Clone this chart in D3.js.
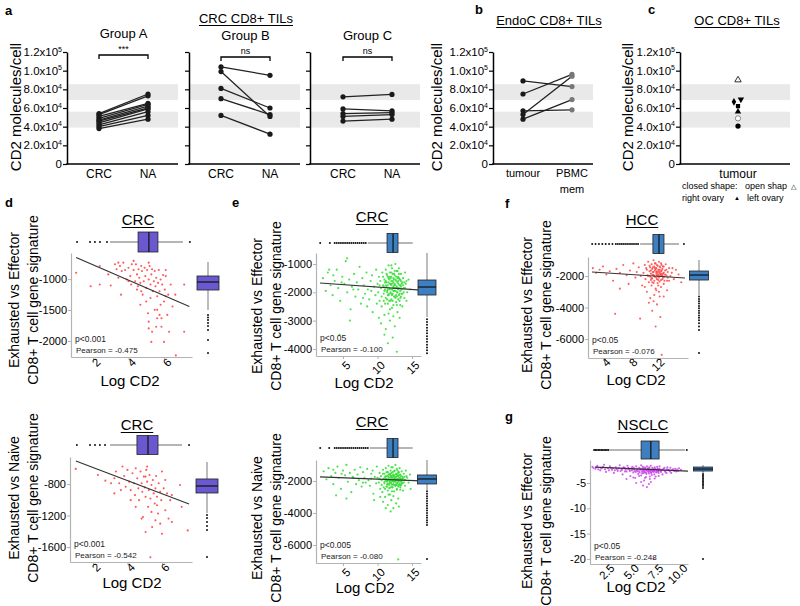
<!DOCTYPE html>
<html><head><meta charset="utf-8">
<script src="https://cdn.jsdelivr.net/npm/d3@7"></script>
<style>body{margin:0;background:#fff}svg{font-family:'Liberation Sans',Arial,sans-serif}</style>
</head><body>
<svg id="c" width="800" height="606"></svg>
<script>
// ---------------- DATA ----------------
const aTicks = [0,20000,40000,60000,80000,100000,120000];
const refBands = [[68500,85500],[39000,56000]];
const pairCats = ['CRC','NA'];
const groupA_CRC = [54000,53000,51000,49000,47000,46000,44000,42000,40000,38000];
const groupA_NA  = [75000,73000,65000,64000,62000,60000,59000,56000,52000,48000];
const groupB_CRC = [104000,99000,81000,70000,52000];
const groupB_NA  = [95000,51000,60000,53000,32000];
const groupC_CRC = [72000,59000,54000,51000,46000];
const groupC_NA  = [74500,57000,55000,53000,48000];
const bCats = ['tumour','PBMC'];
const bTumour = [89000,75000,53000,57000,48000];
const bPBMC   = [83000,96000,94000,58000,69000];
const cVals   = [90000,66600,69200,62000,56000,48900,40600];
const cShapes = ['triangle','diamond','triangleDown','square','triangle','circle','circle'];
const cFilled = [false,true,true,true,true,false,true];
const cJitter = [0,-0.07,0.05,0,0,0,0];

const dTopPts = [[1.05,-897],[1.87,-1115],[2.38,-1087],[2.38,-787],[2.86,-923],[3.0,-1103],[3.24,-759],[3.33,-841],[3.43,-978],[3.52,-787],[3.58,-1251],[3.62,-869],[3.71,-733],[3.81,-852],[3.9,-1005],[4.0,-815],[4.1,-951],[4.15,-1087],[4.19,-759],[4.29,-852],[4.38,-1033],[4.42,-759],[4.48,-923],[4.53,-1115],[4.57,-841],[4.61,-978],[4.67,-1415],[4.67,-1060],[4.72,-787],[4.76,-869],[4.8,-1251],[4.86,-1033],[4.91,-815],[4.95,-951],[5.0,-1142],[5.05,-852],[5.1,-1552],[5.14,-1005],[5.19,-787],[5.24,-1306],[5.24,-1087],[5.29,-923],[5.33,-1852],[5.33,-841],[5.37,-1197],[5.43,-1033],[5.48,-1497],[5.48,-869],[5.52,-1115],[5.56,-978],[5.62,-1634],[5.62,-1278],[5.67,-1060],[5.71,-852],[5.75,-1197],[5.81,-1415],[5.81,-1005],[5.86,-1770],[5.9,-1087],[5.95,-934],[6.0,-1361],[6.0,-2016],[6.05,-1169],[6.1,-951],[6.19,-1579],[6.24,-1251],[6.29,-1852],[6.38,-1087],[6.48,-1443],[6.64,-1251],[6.67,-2234],[7.14,-1087],[7.14,-1852],[5.29,-2016],[5.14,-1797],[5.56,-1770],[5.75,-1579],[5.14,-1688],[5.86,-1634],[6.1,-1278],[5.62,-1497],[5.0,-1361],[4.72,-1197],[4.48,-1169],[4.0,-1033],[4.29,-705],[5.14,-733],[6.1,-852],[3.43,-733]];
const dBotPts = [[1.0,-608],[2.29,-685],[2.72,-757],[3.24,-727],[3.33,-642],[3.52,-791],[3.71,-578],[3.81,-698],[3.9,-834],[4.0,-621],[4.1,-770],[4.19,-877],[4.29,-663],[4.38,-791],[4.44,-941],[4.48,-600],[4.57,-727],[4.63,-855],[4.67,-1005],[4.76,-642],[4.82,-791],[4.86,-898],[4.9,-1218],[4.95,-706],[5.0,-843],[5.05,-962],[5.09,-621],[5.14,-770],[5.2,-1090],[5.24,-877],[5.28,-685],[5.33,-983],[5.39,-813],[5.43,-1346],[5.47,-749],[5.52,-919],[5.58,-1047],[5.62,-855],[5.66,-698],[5.71,-962],[5.77,-1175],[5.81,-791],[5.9,-898],[5.96,-1005],[6.0,-642],[6.1,-855],[6.19,-1133],[6.29,-919],[6.38,-1239],[6.48,-1005],[6.57,-1282],[7.05,-813],[7.14,-1090],[7.49,-1389],[5.9,-1303],[5.33,-1730],[4.82,-1239],[5.62,-1261],[6.0,-1432],[5.05,-1410],[4.48,-1090],[4.19,-1005],[5.05,-706],[5.14,-578],[6.19,-749],[3.62,-877],[3.05,-791],[3.24,-919],[6.57,-941],[5.71,-1069],[5.39,-1154]];
const eTopPts = [[2.1,-1500],[2.5,-1950],[2.8,-1300],[3.2,-1750],[3.5,-2100],[3.8,-1600],[4.1,-1200],[4.3,-1850],[4.6,-2300],[4.9,-1450],[5.2,-1700],[5.4,-900],[5.6,-2000],[5.9,-1550],[6.1,-2600],[6.3,-1800],[6.6,-1350],[6.8,-2150],[7.0,-1650],[7.2,-1900],[7.4,-1100],[7.6,-2400],[7.8,-1500],[8.0,-1750],[8.2,-2050],[8.4,-1300],[8.6,-1900],[8.8,-2250],[9.0,-1600],[9.2,-1400],[9.3,-2700],[9.5,-1800],[9.7,-2100],[9.8,-1200],[10.0,-1700],[10.1,-2000],[10.2,-1450],[10.3,-2300],[10.4,-1600],[10.5,-1850],[10.6,-2500],[10.7,-1300],[10.8,-1750],[10.9,-2050],[11.0,-1550],[11.0,-2800],[11.1,-1900],[11.2,-1200],[11.2,-2200],[11.3,-1650],[11.4,-1950],[11.4,-1400],[11.5,-2400],[11.5,-1750],[11.6,-1050],[11.6,-2100],[11.7,-1550],[11.7,-1850],[11.8,-2600],[11.8,-1300],[11.9,-2000],[11.9,-1700],[12.0,-1450],[12.0,-2250],[12.1,-1900],[12.1,-1150],[12.2,-1600],[12.2,-2050],[12.3,-1800],[12.3,-2450],[12.4,-1350],[12.4,-1950],[12.5,-1700],[12.5,-2150],[12.6,-1000],[12.6,-1550],[12.7,-1850],[12.7,-2350],[12.8,-1250],[12.8,-2000],[12.9,-1650],[12.9,-2700],[13.0,-1450],[13.0,-1900],[13.1,-2100],[13.1,-1150],[13.2,-1750],[13.2,-2300],[13.3,-1550],[13.3,-1950],[13.4,-1350],[13.5,-2050],[13.5,-1700],[13.6,-2500],[13.7,-1500],[13.8,-1850],[13.9,-2200],[14.0,-1300],[14.1,-1700],[14.3,-2000],[14.5,-1550],[14.7,-1900],[10.5,-3100],[11.2,-3300],[11.8,-3000],[12.2,-3600],[12.5,-3200],[11.5,-3800],[12.8,-4100],[11.0,-3500],[13.2,-2900],[10.2,-2900],[4.5,-3500],[6.0,-3000],[11.3,-1800],[11.9,-1500],[12.4,-1750],[12.7,-1600],[13.0,-1700],[12.0,-1750],[11.6,-1650],[12.3,-1500],[12.9,-1850],[11.8,-1900],[12.6,-1950],[13.4,-1800],[11.1,-1650],[12.2,-1850],[13.6,-1650],[11.4,-2000],[12.1,-2100],[12.8,-2150],[13.3,-2200],[11.7,-2300],[10.9,-1800],[12.5,-1400],[13.1,-1500],[11.5,-1450],[12.0,-1300],[5.6,-800],[3.0,-1200],[8.5,-2500],[9.9,-2400],[14.2,-2300],[10.3,-1750],[10.6,-2150],[10.8,-1450],[11.0,-1950],[11.1,-2400],[11.2,-1600],[11.3,-1350],[11.4,-2250],[11.5,-1900],[11.6,-1500],[11.7,-2050],[11.8,-1700],[11.9,-2300],[12.0,-1600],[12.0,-2050],[12.1,-1700],[12.2,-1350],[12.2,-2300],[12.3,-1950],[12.3,-1650],[12.4,-2150],[12.5,-1850],[12.5,-1250],[12.6,-2200],[12.6,-1750],[12.7,-1450],[12.8,-1800],[12.8,-2450],[12.9,-1500],[12.9,-2000],[13.0,-2250],[13.0,-1600],[13.1,-1850],[13.1,-1350],[13.2,-2050],[13.2,-1550],[13.3,-1750],[13.4,-2150],[13.4,-1600],[13.5,-1900],[13.6,-2050],[13.7,-1750],[13.8,-2000],[14.0,-1850],[14.2,-1600],[11.5,-2100],[11.8,-1450],[12.1,-2550],[12.4,-1550],[12.7,-2100],[13.3,-2450],[11.2,-1750],[10.9,-2300],[13.9,-1650],[12.0,-1050],[12.9,-1250],[11.6,-2750],[12.3,-2850],[6.5,-1900],[4.8,-1650],[7.9,-2200],[3.6,-1400],[9.1,-1950]];
const eBotPts = [[2.2,-1400],[2.6,-1900],[2.9,-1200],[3.3,-1700],[3.6,-2200],[3.9,-1500],[4.2,-1100],[4.4,-1800],[4.7,-2500],[5.0,-1350],[5.3,-1650],[5.5,-1000],[5.7,-2050],[6.0,-1500],[6.2,-2700],[6.4,-1750],[6.7,-1300],[6.9,-2200],[7.1,-1600],[7.3,-1950],[7.5,-1150],[7.7,-2350],[7.9,-1450],[8.1,-1800],[8.3,-2100],[8.5,-1250],[8.7,-1950],[8.9,-2300],[9.1,-1550],[9.3,-1350],[9.4,-2800],[9.6,-1750],[9.8,-2150],[9.9,-1100],[10.0,-1800],[10.2,-2100],[10.3,-1500],[10.4,-2500],[10.5,-1700],[10.6,-1950],[10.7,-2700],[10.8,-1300],[10.9,-1850],[11.0,-2150],[11.0,-1550],[11.1,-3000],[11.2,-2000],[11.2,-1200],[11.3,-2350],[11.4,-1700],[11.4,-2050],[11.5,-1450],[11.5,-2600],[11.6,-1850],[11.6,-1050],[11.7,-2250],[11.7,-1600],[11.8,-1950],[11.8,-2850],[11.9,-1350],[11.9,-2100],[12.0,-1750],[12.0,-1500],[12.1,-2400],[12.1,-2000],[12.2,-1150],[12.2,-1650],[12.3,-2200],[12.3,-1900],[12.4,-2650],[12.4,-1400],[12.5,-2050],[12.5,-1750],[12.6,-2300],[12.6,-1000],[12.7,-1600],[12.7,-1950],[12.8,-2500],[12.8,-1250],[12.9,-2100],[12.9,-1700],[13.0,-3100],[13.0,-1500],[13.1,-2000],[13.1,-2250],[13.2,-1200],[13.2,-1800],[13.3,-2400],[13.3,-1600],[13.4,-2050],[13.5,-1400],[13.5,-2150],[13.6,-1750],[13.7,-2600],[13.8,-1550],[13.9,-1950],[14.0,-2300],[14.1,-1350],[14.3,-1800],[14.5,-2100],[14.7,-1600],[11.3,-1900],[11.9,-1650],[12.4,-1850],[12.7,-1750],[13.0,-1850],[12.0,-1900],[11.6,-1750],[12.3,-1600],[12.9,-1950],[11.8,-2050],[12.6,-2050],[13.4,-1900],[11.1,-1750],[12.2,-2000],[13.6,-1850],[11.4,-2200],[12.1,-2250],[12.8,-2250],[13.3,-2300],[11.7,-2450],[10.8,-3300],[11.5,-3500],[12.0,-3200],[12.3,-3700],[12.7,-3400],[11.9,-3900],[13.1,-3600],[11.2,-3700],[13.0,-6900],[10.4,-3000],[4.0,-2900],[5.5,-3100],[14.8,-2500],[9.5,-3200],[10.3,-1850],[10.6,-2250],[10.8,-1550],[11.0,-2050],[11.1,-2500],[11.2,-1700],[11.3,-1450],[11.4,-2350],[11.5,-2000],[11.6,-1600],[11.7,-2150],[11.8,-1800],[11.9,-2400],[12.0,-1700],[12.0,-2150],[12.1,-1800],[12.2,-1450],[12.2,-2400],[12.3,-2050],[12.3,-1750],[12.4,-2250],[12.5,-1950],[12.5,-1350],[12.6,-2300],[12.6,-1850],[12.7,-1550],[12.8,-1900],[12.8,-2550],[12.9,-1600],[12.9,-2100],[13.0,-2350],[13.0,-1700],[13.1,-1950],[13.1,-1450],[13.2,-2150],[13.2,-1650],[13.3,-1850],[13.4,-2250],[13.4,-1700],[13.5,-2000],[13.6,-2150],[13.7,-1850],[13.8,-2100],[14.0,-1950],[14.2,-1700],[11.5,-2200],[11.8,-1550],[12.1,-2650],[12.4,-1650],[12.7,-2200],[13.3,-2550],[11.2,-1850],[10.9,-2400],[13.9,-1750],[12.0,-1150],[12.9,-1350],[11.6,-2850],[12.3,-2950],[6.5,-1800],[4.8,-1550],[7.9,-2100],[3.6,-1300],[9.1,-1850]];
const fPts = [[2.5,-1500],[3.0,-1800],[3.5,-1600],[4.0,-1400],[4.5,-1900],[5.0,-1700],[5.5,-2300],[6.0,-1550],[6.5,-1800],[7.0,-1300],[7.5,-1950],[7.8,-2500],[8.0,-1650],[8.5,-1200],[8.8,-2100],[9.0,-1750],[9.3,-1450],[9.6,-2000],[9.8,-2600],[10.0,-1800],[10.2,-1300],[10.3,-2200],[10.5,-1600],[10.6,-1950],[10.7,-1100],[10.8,-2400],[10.9,-1700],[11.0,-1450],[11.0,-2050],[11.1,-1850],[11.2,-1250],[11.2,-2600],[11.3,-1550],[11.3,-2150],[11.4,-1750],[11.5,-1000],[11.5,-1950],[11.6,-2300],[11.6,-1400],[11.7,-1650],[11.7,-2050],[11.8,-1200],[11.8,-2800],[11.9,-1850],[11.9,-1500],[12.0,-2200],[12.0,-1700],[12.1,-1350],[12.1,-2450],[12.2,-1900],[12.2,-1600],[12.3,-2100],[12.3,-1100],[12.4,-1800],[12.4,-2350],[12.5,-1450],[12.5,-2000],[12.6,-1700],[12.6,-2700],[12.7,-1300],[12.7,-1950],[12.8,-2200],[12.8,-1550],[12.9,-1850],[13.0,-1400],[13.0,-2500],[13.1,-2050],[13.2,-1650],[13.3,-1250],[13.4,-1950],[13.5,-2300],[13.6,-1750],[13.8,-1500],[14.0,-2000],[14.2,-1800],[14.5,-2200],[14.8,-1600],[15.2,-1900],[15.6,-2400],[11.4,-1900],[11.9,-1750],[12.2,-2000],[12.6,-1850],[11.7,-1500],[12.4,-1600],[11.1,-2250],[12.9,-2100],[12.0,-1950],[11.5,-2450],[10.5,-3000],[11.0,-3400],[11.6,-3200],[12.0,-3800],[12.3,-3000],[11.3,-4200],[12.5,-4600],[10.8,-3700],[11.8,-5200],[13.0,-3300],[12.7,-7000],[9.5,-4700],[13.5,-2900],[10.2,-2700],[6.5,-2800],[5.8,-4400],[10.4,-1500],[10.7,-2000],[10.9,-1350],[11.1,-1650],[11.2,-2150],[11.4,-1450],[11.5,-1750],[11.6,-2000],[11.8,-1550],[11.9,-2100],[12.0,-1300],[12.1,-1800],[12.2,-2250],[12.3,-1700],[12.4,-1400],[12.5,-1900],[12.6,-2250],[12.7,-1650],[12.8,-1950],[12.9,-1400],[13.0,-1800],[13.1,-2300],[13.2,-1900],[13.4,-1600],[13.6,-2100],[11.3,-2400],[11.7,-1200],[12.6,-1200],[12.2,-2600],[11.9,-2900],[12.4,-3300],[11.5,-3600],[13.8,-2300],[14.3,-1500]];
const gPts = [[1.0,-1.8],[1.3,-2.2],[1.5,-1.6],[1.8,-2.5],[2.0,-2.0],[2.2,-1.4],[2.4,-2.8],[2.6,-2.1],[2.8,-1.7],[3.0,-2.4],[3.2,-3.0],[3.4,-1.9],[3.6,-2.6],[3.8,-1.5],[4.0,-2.2],[4.1,-3.3],[4.3,-2.0],[4.5,-2.7],[4.6,-1.6],[4.8,-2.4],[4.9,-3.6],[5.0,-2.1],[5.1,-1.8],[5.2,-2.9],[5.3,-2.3],[5.4,-4.0],[5.5,-1.7],[5.6,-2.6],[5.7,-3.2],[5.8,-2.0],[5.9,-2.4],[6.0,-1.5],[6.0,-3.5],[6.1,-2.7],[6.2,-2.2],[6.3,-4.5],[6.3,-1.9],[6.4,-2.9],[6.5,-2.4],[6.5,-3.8],[6.6,-1.7],[6.7,-2.6],[6.8,-3.1],[6.8,-2.1],[6.9,-4.2],[7.0,-2.5],[7.0,-1.6],[7.1,-3.4],[7.2,-2.3],[7.3,-2.8],[7.4,-1.9],[7.5,-3.7],[7.6,-2.5],[7.7,-2.1],[7.8,-3.0],[7.9,-1.7],[8.0,-2.6],[8.2,-3.3],[8.3,-2.2],[8.5,-2.8],[8.7,-1.9],[8.9,-2.5],[9.1,-3.0],[9.3,-2.3],[9.6,-2.7],[9.9,-2.1],[1.1,-2.0],[1.6,-2.3],[2.1,-1.8],[2.7,-2.5],[3.1,-2.1],[3.5,-2.3],[3.9,-2.6],[4.2,-1.9],[4.4,-2.3],[4.7,-2.0],[5.05,-2.5],[5.25,-2.0],[5.45,-2.8],[5.65,-2.2],[5.85,-2.9],[6.05,-2.3],[6.15,-1.8],[6.25,-3.0],[6.35,-2.5],[6.45,-2.0],[6.55,-3.2],[6.65,-2.3],[6.75,-2.8],[6.85,-1.9],[6.95,-2.7],[7.05,-3.0],[7.15,-2.0],[7.25,-2.6],[7.35,-3.3],[7.45,-2.2],[7.55,-2.9],[7.65,-1.8],[7.75,-2.7],[7.85,-2.3],[8.1,-2.4],[8.4,-2.0],[8.6,-3.0],[8.8,-2.4],[9.0,-2.0],[9.4,-2.6],[9.7,-2.3],[10.1,-2.4],[5.5,-5.0],[6.2,-5.5],[7.0,-4.8],[6.6,-5.8],[4.5,-4.2],[7.3,-20],[1.4,-1.9],[1.9,-2.1],[2.3,-2.3],[2.9,-2.0],[3.3,-2.5],[3.7,-2.1],[4.05,-2.4],[4.35,-2.7],[4.65,-2.2],[4.85,-2.6],[5.15,-2.3],[5.35,-2.6],[5.55,-2.4],[5.75,-2.7],[5.95,-2.2],[6.1,-3.1],[6.2,-2.5],[6.3,-2.7],[6.4,-2.2],[6.5,-2.9],[6.6,-2.5],[6.7,-2.1],[6.8,-2.6],[6.9,-2.3],[7.0,-2.9],[7.1,-2.4],[7.2,-2.7],[7.3,-2.2],[7.4,-2.6],[7.5,-2.3],[7.6,-2.8],[7.7,-2.4],[7.8,-2.6],[7.9,-2.2],[8.05,-2.8],[8.25,-2.4],[8.45,-2.6],[8.65,-2.3],[8.95,-2.7],[9.2,-2.4],[9.5,-2.2],[9.8,-2.6],[5.8,-3.6],[6.4,-4.0],[6.9,-3.7],[7.4,-4.1],[5.2,-3.9],[7.8,-3.6],[6.0,-4.8],[6.8,-5.2]];

// fits: [slope, intercept, xFrom, xTo]
const dTopFit = [-124.3,-519,1.05,7.43];
const dBotFit = [-83.2,-424,1.01,7.57];
const eTopFit = [-16.95,-1643,1.67,16.3];
const eBotFit = [-17.1,-1721,1.67,16.3];
const fFit    = [-27.6,-1681,2.37,16.15];
const gFit    = [-0.0827,-1.735,1.27,10.82];
// box stats: [lowWhisker, q1, median, q3, highWhisker]
const dTopXBox = [2.96,4.54,5.15,5.66,7.07], dTopXOut = [1.1,1.83,2.11,2.39,2.79,7.46];
const dTopYBox = [-1499,-1176,-1046,-949,-723], dTopYOut = [-1580,-1620,-1661,-1710,-1758,-1823,-1985,-2195];
const dBotXBox = [2.99,4.55,5.19,5.77,7.16], dBotXOut = [1.07,1.83,2.12,2.4,2.7,7.57];
const dBotYBox = [-1168,-914,-825,-736,-520], dBotYOut = [-1193,-1231,-1282,-1333,-1384,-1727];
const eTopXBox = [8.6,11.38,12.25,12.97,15.1], eTopXOut = [1.7,3.1,3.8,4.1,4.4,4.7,5.0,5.3,5.6,5.9,6.2,6.5,6.8,7.1,7.4,7.7,8.0,8.3];
const eTopYBox = [-2873,-2095,-1813,-1565,-611], eTopYOut = [-2950,-3050,-3150,-3250,-3350,-3450,-3550,-3650,-3750,-3850,-3950,-4050,-4150];
const eBotXBox = [8.9,11.38,12.25,12.97,15.1], eBotXOut = [1.7,3.0,3.8,4.1,4.4,4.7,5.0,5.3,5.6,5.9,6.2,6.5,6.8,7.1,7.4,7.7,8.0,8.3,8.6];
const eBotYBox = [-2560,-2188,-1875,-1625,-687], eBotYOut = [-2650,-2800,-2950,-3100,-3250,-3400,-3550,-3700,-3850,-4000,-4150,-4300,-4450,-4600,-4750,-6875];
const fXBox = [9.5,11.4,12.3,13.04,15.26], fXOut = [2.4,2.9,3.4,3.9,4.4,4.9,5.4,5.9,6.2,6.5,6.8,7.1,7.4,7.7,8.0,8.3,8.6,8.9,9.2,16.0];
const fYBox = [-3206,-2254,-1937,-1683,-984], fYOut = [-3300,-3450,-3600,-3750,-3900,-4050,-4200,-4350,-4500,-4650,-4800,-5000,-5200,-5430,-6890];
const gXBox = [2.8,6.0,7.0,7.85,10.5], gXOut = [1.17,1.3,1.45,1.6,1.75,1.9,2.05,2.2,2.35,2.5,2.65,10.7];
const gYBox = [-3.0,-2.63,-2.23,-1.84,-1.44], gYOut = [-3.2,-3.5,-3.8,-4.1,-4.4,-4.7,-5.0,-5.3,-5.6,-6.0,-20];

// ---------------- DRAW ----------------
const svg = d3.select('#c');
const FONT = "'Liberation Sans',Arial,sans-serif";

function txt(x,y,s,opt={}){
  const t = svg.append('text').attr('x',x).attr('y',y).text(s)
    .attr('font-size',opt.size||12).attr('text-anchor',opt.anchor||'start')
    .attr('fill',opt.fill||'#000');
  if(opt.weight) t.attr('font-weight',opt.weight);
  if(opt.rot!==undefined) t.attr('transform',`rotate(${opt.rot},${x},${y})`);
  if(opt.dy) t.attr('dy',opt.dy);
  return t;
}
function underlinedTitle(cx,base,s,size){
  const t = txt(cx,base,s,{size:size,anchor:'middle'});
  const w = t.node().getComputedTextLength();
  svg.append('line').attr('x1',cx-w/2).attr('x2',cx+w/2).attr('y1',base+2.5).attr('y2',base+2.5)
    .attr('stroke','#000').attr('stroke-width',1);
}

const yA = d3.scaleLinear().domain([0,120000]).range([164,52]);

function sciParts(v){
  if(v===0) return ['0',null];
  const e = Math.floor(Math.log10(v));
  return [(v/Math.pow(10,e)).toFixed(1)+'x10', String(e)];
}

function yAxisA(axisX, xEnd, labels){
  refBands.forEach(b=>{
    svg.append('rect').attr('x',axisX+1).attr('width',xEnd-axisX-1)
      .attr('y',yA(b[1])).attr('height',yA(b[0])-yA(b[1])).attr('fill','#e9e9e9');
  });
  const g = svg.append('g').attr('transform',`translate(${axisX},0)`)
    .call(d3.axisLeft(yA).tickValues(aTicks).tickSize(4).tickSizeOuter(0).tickFormat(()=>''));
  g.select('.domain').attr('stroke','#000').attr('stroke-width',1.5);
  g.selectAll('.tick line').attr('stroke','#000').attr('stroke-width',1.2);
  if(labels){
    aTicks.forEach(v=>{
      const p = sciParts(v);
      const t = svg.append('text').attr('x',axisX-5).attr('y',yA(v)).attr('dy','0.36em')
        .attr('text-anchor','end').attr('font-size',11.5);
      t.append('tspan').text(p[0]);
      if(p[1]) t.append('tspan').attr('dy',-4.5).attr('font-size',7).text(p[1]);
    });
  }
  svg.append('line').attr('x1',axisX-0.75).attr('x2',xEnd).attr('y1',yA(0)).attr('y2',yA(0))
    .attr('stroke','#000').attr('stroke-width',1.5);
}

function paired(axisX,xEnd,p0,p1,cats,left,right,opt){
  yAxisA(axisX,xEnd,opt.labels);
  const x = d3.scalePoint().domain(cats).range([p0,p1]);
  left.forEach((v,i)=>{
    svg.append('line').attr('x1',x(cats[0])).attr('x2',x(cats[1]))
      .attr('y1',yA(v)).attr('y2',yA(right[i])).attr('stroke','#222').attr('stroke-width',1.3);
  });
  left.forEach(v=>svg.append('circle').attr('cx',x(cats[0])).attr('cy',yA(v)).attr('r',2.6).attr('fill','#1a1a1a'));
  right.forEach(v=>svg.append('circle').attr('cx',x(cats[1])).attr('cy',yA(v)).attr('r',2.6).attr('fill',opt.rightFill||'#1a1a1a'));
  return x;
}

// Panel a
txt(5,15,'a',{size:13,weight:'bold'});
underlinedTitle(246,23,'CRC CD8+ TILs',13);
txt(15.5,107,'CD2 molecules/cell',{size:15,anchor:'middle',rot:-90,dy:'0.36em'});
const groups = [
  {ax:67,end:178,p0:99,p1:148,l:groupA_CRC,r:groupA_NA,title:'Group A',tb:38,sig:'***',sy:55,lab:true},
  {ax:189,end:300,p0:221,p1:270,l:groupB_CRC,r:groupB_NA,title:'Group B',tb:40,sig:'ns',sy:57,lab:false},
  {ax:310,end:420,p0:343,p1:392,l:groupC_CRC,r:groupC_NA,title:'Group C',tb:40,sig:'ns',sy:57,lab:false}
];
groups.forEach(G=>{
  const x = paired(G.ax,G.end,G.p0,G.p1,pairCats,G.l,G.r,{labels:G.lab});
  txt((G.p0+G.p1)/2,G.tb,G.title,{size:13,anchor:'middle'});
  svg.append('path').attr('d',`M${G.p0},${G.sy+4}V${G.sy}H${G.p1}V${G.sy+4}`)
    .attr('fill','none').attr('stroke','#000').attr('stroke-width',1.3);
  txt((G.p0+G.p1)/2,G.sy-3,G.sig,{size:9,anchor:'middle'});
  pairCats.forEach(c=>txt(x(c),178,c,{size:12,anchor:'middle'}));
});

// Panel b
txt(475,14,'b',{size:13,weight:'bold'});
underlinedTitle(549,25,'EndoC CD8+ TILs',13);
txt(437,107,'CD2 molecules/cell',{size:15,anchor:'middle',rot:-90,dy:'0.36em'});
const xb = paired(493,593,523,572,bCats,bTumour,bPBMC,{labels:true,rightFill:'#777'});
txt(xb('tumour'),177,'tumour',{size:11,anchor:'middle'});
txt(xb('PBMC'),177,'PBMC',{size:11,anchor:'middle'});
txt(xb('PBMC'),193,'mem',{size:11,anchor:'middle'});

// Panel c
txt(648,14,'c',{size:13,weight:'bold'});
underlinedTitle(737,25,'OC CD8+ TILs',13);
txt(628,107,'CD2 molecules/cell',{size:15,anchor:'middle',rot:-90,dy:'0.36em'});
yAxisA(680,790,true);
const xc = d3.scaleLinear().domain([-1,1]).range([680,796]);
const symMap = {triangle:d3.symbolTriangle,diamond:d3.symbolDiamond,square:d3.symbolSquare,circle:d3.symbolCircle,triangleDown:d3.symbolTriangle};
cVals.forEach((v,i)=>{
  const s = cShapes[i];
  const p = svg.append('path').attr('d',d3.symbol().type(symMap[s]).size(s==='circle'?22:18)())
    .attr('transform',`translate(${xc(cJitter[i])},${yA(v)})${s==='triangleDown'?' rotate(180)':''}`);
  if(cFilled[i]) p.attr('fill','#000');
  else p.attr('fill','#fff').attr('stroke',s==='circle'?'#888':'#333').attr('stroke-width',1);
});
txt(738,178,'tumour',{size:12,anchor:'middle'});
txt(682,189,'closed shape:',{size:9});
txt(745,189,'open shap',{size:9});
txt(791,189,'\u25B3',{size:7});
txt(682,201,'right ovary',{size:9});
txt(734,200,'\u25B2',{size:6});
txt(747,201,'left ovary',{size:9});

// scatter panels
function scatter(p){
  const x = d3.scaleLinear().domain(p.xd).range([p.L,p.R]);
  const y = d3.scaleLinear().domain(p.yd).range([p.B,p.T]);
  const gx = svg.append('g').attr('transform',`translate(0,${p.B})`)
    .call(d3.axisBottom(x).tickValues(p.xt).tickSize(3).tickSizeOuter(0).tickFormat(p.xf||(d=>String(d))));
  const gy = svg.append('g').attr('transform',`translate(${p.L},0)`)
    .call(d3.axisLeft(y).tickValues(p.yt).tickSize(3).tickSizeOuter(0).tickFormat(d=>String(d)));
  [gx,gy].forEach(g=>{
    g.select('.domain').attr('stroke','#b3b3b3').attr('stroke-width',1.2);
    g.selectAll('.tick line').attr('stroke','#b3b3b3');
    g.selectAll('text').attr('font-family',FONT).attr('fill','#000');
  });
  gy.selectAll('text').attr('font-size',11).attr('x',-4);
  gx.selectAll('text').attr('font-size',11.5).attr('text-anchor','end')
    .attr('y',0).attr('dy','0.35em').attr('transform',`translate(5,${p.xo2||3}) rotate(-45)`);
  // points
  svg.append('g').selectAll('circle').data(p.pts).join('circle')
    .attr('cx',d=>x(d[0])).attr('cy',d=>y(d[1])).attr('r',p.pr||1.05)
    .attr('fill',p.col).attr('opacity',0.85);
  // fit
  const f = p.fit;
  svg.append('line').attr('x1',x(f[2])).attr('x2',x(f[3]))
    .attr('y1',y(f[0]*f[2]+f[1])).attr('y2',y(f[0]*f[3]+f[1]))
    .attr('stroke','#333').attr('stroke-width',1.2);
  // top box
  const tb = p.xb, cy = p.tbY, h = p.tbH;
  svg.append('line').attr('x1',x(tb[0])).attr('x2',x(tb[4])).attr('y1',cy).attr('y2',cy)
    .attr('stroke','#b5b5b5').attr('stroke-width',1.8);
  svg.append('rect').attr('x',x(tb[1])).attr('width',x(tb[3])-x(tb[1])).attr('y',cy-h/2).attr('height',h)
    .attr('fill',p.boxCol).attr('stroke','#222').attr('stroke-width',0.8);
  svg.append('line').attr('x1',x(tb[2])).attr('x2',x(tb[2])).attr('y1',cy-h/2).attr('y2',cy+h/2)
    .attr('stroke','#111').attr('stroke-width',1.2);
  p.xo.forEach(v=>svg.append('circle').attr('cx',x(v)).attr('cy',cy).attr('r',1).attr('fill','#111'));
  // right box
  const rb = p.yb, cx = p.rbX, w = p.rbW;
  svg.append('line').attr('y1',y(rb[0])).attr('y2',y(rb[4])).attr('x1',cx).attr('x2',cx)
    .attr('stroke','#b5b5b5').attr('stroke-width',1.8);
  svg.append('rect').attr('y',y(rb[3])).attr('height',y(rb[1])-y(rb[3])).attr('x',cx-w/2).attr('width',w)
    .attr('fill',p.boxCol).attr('stroke','#222').attr('stroke-width',0.8);
  svg.append('line').attr('y1',y(rb[2])).attr('y2',y(rb[2])).attr('x1',cx-w/2).attr('x2',cx+w/2)
    .attr('stroke','#111').attr('stroke-width',1.2);
  p.yo.forEach(v=>svg.append('circle').attr('cx',cx).attr('cy',y(v)).attr('r',1).attr('fill','#111'));
  // texts
  underlinedTitle(p.tx,p.ty,p.title,15);
  txt(p.L+4,p.B-15,p.pv,{size:8.5,fill:'#222'});
  txt(p.L+5,p.B-4,'Pearson = '+p.r,{size:8,fill:'#222'});
  txt(p.xlX,p.xlY,'Log CD2',{size:15,anchor:'middle'});
  txt(p.yl1X,p.ylY,p.yl1,{size:14,anchor:'middle',rot:-90,dy:'0.36em'});
  txt(p.yl2X,p.ylY,'CD8+ T cell gene signature',{size:14,anchor:'middle',rot:-90,dy:'0.36em'});
}

txt(5,207,'d',{size:13,weight:'bold'});
txt(232,207,'e',{size:13,weight:'bold'});
txt(505,208,'f',{size:13,weight:'bold'});
txt(505,421,'g',{size:13,weight:'bold'});

scatter({L:71,R:192,T:253,B:357,xd:[0.76,7.58],yd:[-2260,-577],xt:[2,4,6],yt:[-1000,-1500,-2000],
  pts:dTopPts,col:'#ff3b3b',fit:dTopFit,xb:dTopXBox,xo:dTopXOut,yb:dTopYBox,yo:dTopYOut,
  tbY:242,tbH:20,rbX:208,rbW:22,boxCol:'#6a58cf',title:'CRC',tx:138,ty:225,pv:'p<0.001',r:'-0.475',
  xlX:130,xlY:386,yl1:'Exhausted vs Effector',yl1X:14,yl2X:33,ylY:300});
scatter({L:70,R:192,T:457,B:562,xd:[0.67,7.74],yd:[-1790,-457],xt:[2,4,6],yt:[-800,-1200,-1600],
  pts:dBotPts,col:'#ff3b3b',fit:dBotFit,xb:dBotXBox,xo:dBotXOut,yb:dBotYBox,yo:dBotYOut,
  tbY:445,tbH:19,rbX:207,rbW:22,boxCol:'#6a58cf',title:'CRC',tx:137,ty:430,pv:'p<0.001',r:'-0.542',
  xlX:132,xlY:588,yl1:'Exhausted vs Naive',yl1X:14,yl2X:33,ylY:498});
scatter({L:316,R:421,T:253,B:356,xd:[1.09,16.3],yd:[-4250,-611],xt:[5,10,15],yt:[-1000,-2000,-3000,-4000],
  pts:eTopPts,col:'#33dd33',pr:1.1,fit:eTopFit,xb:eTopXBox,xo:eTopXOut,yb:eTopYBox,yo:eTopYOut,xo2:7,
  tbY:243,tbH:19,rbX:427,rbW:18,boxCol:'#3d7fc0',title:'CRC',tx:372,ty:222,pv:'p<0.05',r:'-0.100',
  xlX:364,xlY:388,yl1:'Exhausted vs Effector',yl1X:257,yl2X:276,ylY:306});
scatter({L:316,R:421,T:460,B:563,xd:[1.09,16.3],yd:[-7125,-690],xt:[5,10,15],yt:[-2000,-4000,-6000],
  pts:eBotPts,col:'#33dd33',pr:1.1,fit:eBotFit,xb:eBotXBox,xo:eBotXOut,yb:eBotYBox,yo:eBotYOut,xo2:7,
  tbY:448,tbH:19,rbX:427,rbW:19,boxCol:'#3d7fc0',title:'CRC',tx:372,ty:427,pv:'p<0.005',r:'-0.080',
  xlX:365,xlY:593,yl1:'Exhausted vs Naive',yl1X:257,yl2X:276,ylY:518});
scatter({L:588,R:688,T:257,B:358,xd:[1.78,16.6],yd:[-7200,-794],xt:[4,8,12],yt:[-2000,-4000,-6000],
  pts:fPts,col:'#ff4444',fit:fFit,xb:fXBox,xo:fXOut,yb:fYBox,yo:fYOut,xo2:2,
  tbY:244,tbH:19,rbX:699,rbW:19,boxCol:'#3d7fc0',title:'HCC',tx:642,ty:225,pv:'p<0.05',r:'-0.076',
  xlX:636,xlY:385,yl1:'Exhausted vs Effector',yl1X:527,yl2X:546,ylY:305});
scatter({L:590,R:688,T:460,B:564,xd:[0.75,10.82],yd:[-21,-0.45],xt:[2.5,5,7.5,10],yt:[-5,-10,-15,-20],xf:d3.format('.1f'),
  pts:gPts,col:'#cc44ee',fit:gFit,xb:gXBox,xo:gXOut,yb:gYBox,yo:gYOut,xo2:2,
  tbY:450,tbH:18,rbX:703,rbW:19,boxCol:'#3d7fc0',title:'NSCLC',tx:643,ty:430,pv:'p<0.05',r:'-0.248',
  xlX:636,xlY:592,yl1:'Exhausted vs Effector',yl1X:527,yl2X:546,ylY:521});
</script></body></html>
